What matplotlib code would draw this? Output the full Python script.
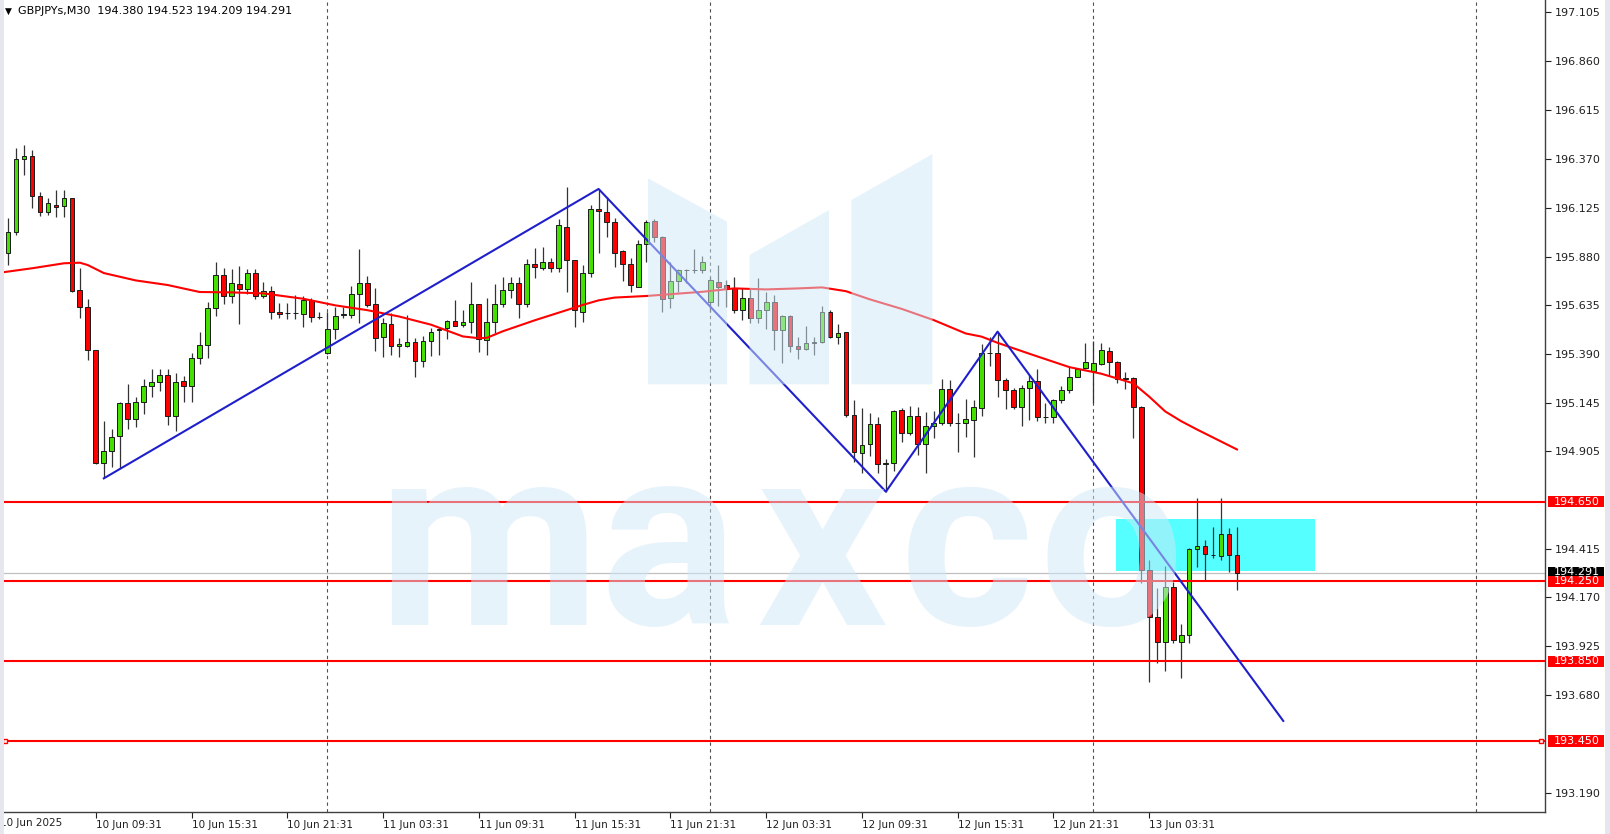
import matplotlib
matplotlib.use("Agg")
import matplotlib.pyplot as plt
from matplotlib.patches import Rectangle, Polygon
from matplotlib.transforms import blended_transform_factory

# GBPJPYs M30, bar index 0 = 10 Jun 03:31 (first visible bar is 1)
opens = [195.896, 196.004, 196.369, 196.386, 196.185, 196.105, 196.138, 196.133, 196.172, 195.710,
         195.625, 195.411, 194.842, 194.906, 194.981, 195.143, 195.065, 195.148, 195.230, 195.249,
         195.285, 195.080, 195.255, 195.230, 195.369, 195.436, 195.620, 195.787, 195.683, 195.740,
         195.715, 195.795, 195.683, 195.708, 195.603, 195.595, 195.595, 195.591, 195.662, 195.578,
         195.397, 195.515, 195.588, 195.586, 195.690, 195.745, 195.642, 195.474, 195.541, 195.431,
         195.433, 195.453, 195.357, 195.458, 195.511, 195.519, 195.558, 195.536, 195.550, 195.640,
         195.461, 195.550, 195.640, 195.712, 195.749, 195.640, 195.841, 195.824, 195.851, 195.821,
         196.030, 195.862, 195.603, 195.795, 196.117, 196.105, 196.055, 195.907, 195.841, 195.729,
         195.941, 196.060, 195.979, 195.670, 195.757, 195.810, 195.812, 195.812, 195.650, 195.750,
         195.737, 195.720, 195.611, 195.670, 195.570, 195.611, 195.653, 195.511, 195.583, 195.431,
         195.416, 195.448, 195.449, 195.603, 195.478, 195.499, 195.085, 194.896, 194.939, 195.040,
         194.841, 194.842, 195.110, 194.996, 195.080, 194.939, 195.030, 195.046, 195.213, 195.043,
         195.046, 195.060, 195.118, 195.397, 195.397, 195.260, 195.210, 195.123, 195.218, 195.255,
         195.076, 195.073, 195.160, 195.210, 195.277, 195.319, 195.305, 195.341, 195.407, 195.352,
         195.267, 195.269, 195.127, 194.307, 194.070, 193.948, 194.220, 193.948, 193.981, 194.411,
         194.427, 194.382, 194.379, 194.486, 194.380]
highs = [196.071, 196.423, 196.439, 196.414, 196.205, 196.172, 196.214, 196.214, 196.175, 195.821,
         195.667, 195.413, 195.056, 195.014, 195.149, 195.240, 195.177, 195.264, 195.314, 195.314,
         195.314, 195.297, 195.280, 195.397, 195.503, 195.653, 195.854, 195.821, 195.816, 195.832,
         195.816, 195.816, 195.754, 195.734, 195.648, 195.648, 195.687, 195.682, 195.670, 195.603,
         195.603, 195.625, 195.628, 195.732, 195.918, 195.784, 195.720, 195.570, 195.595, 195.469,
         195.586, 195.469, 195.481, 195.520, 195.525, 195.560, 195.662, 195.611, 195.750, 195.642,
         195.670, 195.740, 195.779, 195.775, 195.775, 195.866, 195.921, 195.926, 195.871, 196.066,
         196.230, 195.865, 195.837, 196.138, 196.219, 196.180, 196.071, 195.912, 195.871, 195.963,
         196.063, 196.066, 195.984, 195.854, 195.815, 195.815, 195.916, 195.882, 195.779, 195.837,
         195.762, 195.775, 195.720, 195.720, 195.770, 195.703, 195.687, 195.586, 195.585, 195.478,
         195.531, 195.478, 195.632, 195.611, 195.541, 195.500, 195.160, 195.118, 195.093, 195.076,
         194.862, 195.110, 195.118, 195.130, 195.123, 195.101, 195.105, 195.265, 195.260, 195.093,
         195.163, 195.160, 195.439, 195.478, 195.503, 195.269, 195.218, 195.235, 195.285, 195.315,
         195.147, 195.163, 195.230, 195.327, 195.319, 195.444, 195.456, 195.444, 195.428, 195.357,
         195.302, 195.274, 195.130, 194.357, 194.215, 194.327, 194.249, 194.036, 194.416, 194.667,
         194.458, 194.521, 194.667, 194.516, 194.523]
lows = [195.837, 195.988, 196.289, 196.122, 196.083, 196.088, 196.076, 196.080, 195.700, 195.570,
        195.361, 194.840, 194.767, 194.826, 194.817, 195.014, 195.023, 195.090, 195.173, 195.207,
        195.035, 195.006, 195.148, 195.148, 195.341, 195.372, 195.583, 195.642, 195.645, 195.541,
        195.692, 195.665, 195.670, 195.565, 195.570, 195.566, 195.566, 195.525, 195.553, 195.565,
        195.391, 195.464, 195.570, 195.570, 195.545, 195.625, 195.406, 195.377, 195.384, 195.377,
        195.428, 195.277, 195.324, 195.381, 195.386, 195.466, 195.530, 195.528, 195.494, 195.402,
        195.386, 195.494, 195.628, 195.670, 195.570, 195.628, 195.770, 195.812, 195.804, 195.804,
        195.700, 195.528, 195.553, 195.779, 195.899, 195.979, 195.829, 195.757, 195.703, 195.727,
        195.854, 195.954, 195.603, 195.620, 195.703, 195.745, 195.795, 195.795, 195.603, 195.632,
        195.628, 195.598, 195.561, 195.548, 195.548, 195.514, 195.411, 195.344, 195.402, 195.364,
        195.411, 195.386, 195.444, 195.469, 195.441, 195.076, 194.851, 194.792, 194.879, 194.792,
        194.700, 194.805, 194.951, 194.984, 194.884, 194.795, 194.968, 195.035, 195.029, 194.901,
        194.976, 194.876, 195.080, 195.332, 195.173, 195.113, 195.113, 195.029, 195.060, 195.056,
        195.046, 195.046, 195.143, 195.197, 195.274, 195.314, 195.143, 195.335, 195.280, 195.244,
        195.213, 194.968, 194.240, 193.747, 193.842, 193.800, 193.942, 193.764, 193.939, 194.324,
        194.257, 194.366, 194.357, 194.299, 194.209]
closes = [196.004, 196.369, 196.386, 196.185, 196.105, 196.147, 196.130, 196.172, 195.707, 195.625,
          195.411, 194.842, 194.906, 194.976, 195.147, 195.065, 195.152, 195.230, 195.252, 195.285,
          195.080, 195.249, 195.232, 195.369, 195.436, 195.620, 195.787, 195.683, 195.745, 195.715,
          195.795, 195.683, 195.708, 195.603, 195.591, 195.595, 195.595, 195.662, 195.578, 195.577,
          195.515, 195.583, 195.593, 195.690, 195.745, 195.637, 195.469, 195.545, 195.431, 195.439,
          195.453, 195.357, 195.458, 195.503, 195.516, 195.556, 195.533, 195.553, 195.640, 195.466,
          195.550, 195.640, 195.712, 195.749, 195.640, 195.841, 195.826, 195.851, 195.821, 196.038,
          195.862, 195.611, 195.795, 196.117, 196.110, 196.055, 195.899, 195.841, 195.737, 195.941,
          196.055, 195.979, 195.667, 195.757, 195.812, 195.812, 195.811, 195.854, 195.762, 195.729,
          195.715, 195.611, 195.670, 195.570, 195.611, 195.650, 195.511, 195.583, 195.431, 195.416,
          195.448, 195.449, 195.603, 195.478, 195.498, 195.085, 194.901, 194.934, 195.040, 194.839,
          194.842, 195.106, 194.996, 195.080, 194.939, 195.030, 195.046, 195.213, 195.043, 195.043,
          195.063, 195.123, 195.394, 195.398, 195.260, 195.210, 195.123, 195.218, 195.255, 195.073,
          195.076, 195.160, 195.210, 195.277, 195.315, 195.352, 195.347, 195.411, 195.349, 195.264,
          195.269, 195.123, 194.307, 194.070, 193.948, 194.220, 193.956, 193.981, 194.411, 194.427,
          194.386, 194.382, 194.486, 194.382, 194.291]

# moving average (red line), read at some bars
ma_bar = [0, 4, 8, 10, 11, 13, 17, 21, 25, 29, 33, 38, 42, 46, 50, 54, 58, 60, 61, 63,
          67, 71, 73, 75, 77, 81, 88, 92, 96, 100, 103, 106, 109, 113, 117, 121, 123, 125, 129, 134,
          138, 140, 142, 144, 146, 148, 150, 152, 155]
ma_val = [195.799, 195.821, 195.846, 195.849, 195.837, 195.797, 195.760, 195.737, 195.702, 195.700,
          195.695, 195.668, 195.635, 195.611, 195.579, 195.538, 195.479, 195.470, 195.472, 195.505,
          195.560, 195.611, 195.637, 195.660, 195.674, 195.682, 195.703, 195.720, 195.715, 195.720,
          195.725, 195.706, 195.665, 195.617, 195.561, 195.494, 195.478, 195.447, 195.392, 195.325,
          195.292, 195.268, 195.244, 195.177, 195.103, 195.054, 195.012, 194.972, 194.912]

# zigzag / trend line (blue)
zz_bar = [13, 75, 111, 125, 160.8]
zz_val = [194.767, 196.219, 194.700, 195.503, 193.550]

levels = [194.650, 194.250, 193.850, 193.450]
bid = 194.291
zone_bars = (139.8, 164.8)
zone_prices = (194.304, 194.561)

day_breaks = [41, 89, 137, 185]
date_pos = [0, 12, 24, 36, 48, 60, 72, 84, 96, 108, 120, 132, 144]
date_lbl = ["10 Jun 2025", "10 Jun 09:31", "10 Jun 15:31", "10 Jun 21:31", "11 Jun 03:31",
            "11 Jun 09:31", "11 Jun 15:31", "11 Jun 21:31", "12 Jun 03:31", "12 Jun 09:31",
            "12 Jun 15:31", "12 Jun 21:31", "13 Jun 03:31"]
price_ticks = [197.105, 196.860, 196.615, 196.370, 196.125, 195.880, 195.635, 195.390, 195.145,
               194.905, 194.415, 194.170, 193.925, 193.680, 193.190]

W, H = 1610, 834
fig = plt.figure(figsize=(W / 100, H / 100), dpi=100)
fig.patch.set_facecolor("white")
ax = fig.add_axes([4 / W, 22 / H, 1541 / W, 812 / H])
ax.set_xlim(0.49, 193.6)
ax.set_ylim(193.093, 197.167)

bars = list(range(1, len(opens) + 1))
body_lo = [min(o, c) for o, c in zip(opens, closes)]
body_h = [abs(c - o) for o, c in zip(opens, closes)]
body_col = ["#45e000" if c > o else "#ff0000" for o, c in zip(opens, closes)]

# zone rectangle
ax.add_patch(Rectangle((zone_bars[0], zone_prices[0]), zone_bars[1] - zone_bars[0],
                       zone_prices[1] - zone_prices[0], color="#55ffff", lw=0, zorder=1))

for d in day_breaks:
    ax.axvline(d, color="#505050", lw=0.8, ls=(0, (3, 3)), zorder=1.5)

ax.axhline(bid, color="#c0c0c0", lw=0.9, zorder=1.6)

ax.vlines(bars, lows, highs, color="#333333", lw=0.9, zorder=3)
ax.bar(bars, body_h, bottom=body_lo, width=0.6, color=body_col,
       edgecolor="#1a1a1a", linewidth=0.7, zorder=4)

for lv in levels:
    ax.axhline(lv, color="#ff0000", lw=1.5, zorder=5)
ax.plot([0.65, 193.1], [levels[-1], levels[-1]], ls="none", marker="s", ms=3,
        mfc="white", mec="#ff0000", mew=1, zorder=5, clip_on=False)

ax.plot(ma_bar, ma_val, color="#ff0000", lw=1.5, zorder=6)
ax.plot(zz_bar, zz_val, color="#1f1fcc", lw=1.5, zorder=7)

# watermark drawn over the chart
wm = "#d1e9f9"
for pts in ([(0.4179, 0.7804), (0.4692, 0.7270), (0.4692, 0.5267), (0.4179, 0.5267)],
            [(0.4838, 0.6860), (0.5354, 0.7414), (0.5354, 0.5267), (0.4838, 0.5267)],
            [(0.5499, 0.7537), (0.6025, 0.8103), (0.6025, 0.5267), (0.5499, 0.5267)]):
    ax.add_patch(Polygon(pts, closed=True, transform=ax.transAxes, fc=wm, ec="none",
                         alpha=0.5, zorder=20))
for ch, xc in zip("maxco", [0.3141, 0.4309, 0.5308, 0.6249, 0.7184]):
    ax.text(xc, 0.2303, ch, transform=ax.transAxes, ha="center", va="baseline",
            fontsize=185, fontfamily="Roboto", fontweight="bold", color=wm,
            alpha=0.5, zorder=20)

# axes look
for s in ("left", "top"):
    ax.spines[s].set_visible(False)
for s in ("right", "bottom"):
    ax.spines[s].set_color("#404040")
    ax.spines[s].set_linewidth(1)
ax.yaxis.tick_right()
ax.set_yticks(price_ticks)
ax.set_yticklabels(["%.3f" % p for p in price_ticks])
ax.tick_params(axis="y", direction="out", length=4, width=0.8, pad=3,
               labelsize=8, colors="#202020")
ax.set_xticks(date_pos[1:])
ax.set_xticklabels(date_lbl[1:], ha="left")
ax.tick_params(axis="x", direction="out", length=4, width=0.8, pad=2,
               labelsize=7.5, colors="#202020")
trx = blended_transform_factory(ax.transData, ax.transAxes)
ax.text(date_pos[0], -0.0074, date_lbl[0], transform=trx, ha="left", va="top",
        fontsize=7.5, color="#202020", clip_on=False)

# price labels on the right scale
tr = blended_transform_factory(ax.transAxes, ax.transData)
ax.add_patch(Rectangle((1.0019, 194.262), 0.0363, 0.060, transform=tr, fc="black",
                       ec="none", clip_on=False, zorder=8))
ax.text(1.0055, 194.295, "%.3f" % bid, transform=tr, va="center", ha="left",
        fontsize=8, color="white", zorder=9, clip_on=False)
for lv in levels:
    ax.add_patch(Rectangle((1.0019, lv - 0.029), 0.0363, 0.056, transform=tr, fc="#ff0000",
                           ec="none", clip_on=False, zorder=10))
    ax.text(1.0055, lv, "%.3f" % lv, transform=tr, va="center", ha="left",
            fontsize=8, color="white", zorder=11, clip_on=False)

# header
fig.text(5 / W, 1 - 11 / H, "\u25bc", fontsize=6.5, va="center", color="black")
fig.text(18 / W, 1 - 11 / H, "GBPJPYs,M30  194.380 194.523 194.209 194.291",
         fontsize=8, va="center", color="black")

# window edges
fig.patches.append(Rectangle((0, 0), 4 / W, 1, transform=fig.transFigure,
                             fc="#e6e6ee", ec="none", zorder=30))
fig.patches.append(Rectangle((1605 / W, 0), 5 / W, 1, transform=fig.transFigure,
                             fc="#e6e6ee", ec="none", zorder=30))

fig.savefig("out.png", dpi=100)
